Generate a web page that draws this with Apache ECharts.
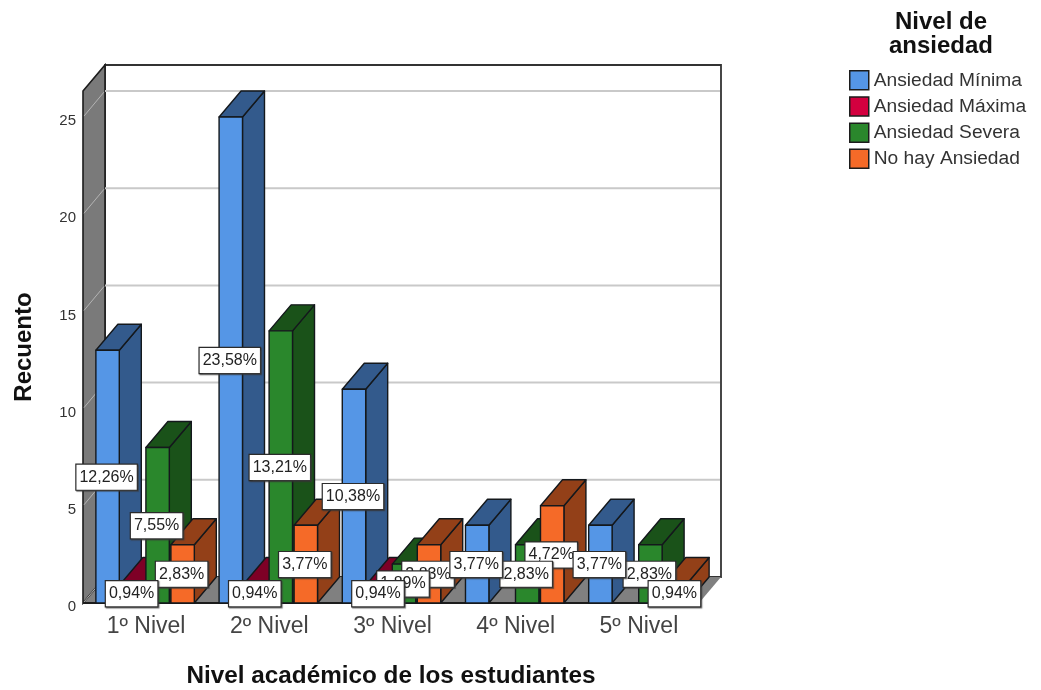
<!DOCTYPE html>
<html>
<head>
<meta charset="utf-8">
<style>html,body{margin:0;padding:0;background:#fff}#chart{width:1041px;height:690px}</style>
<script src="https://cdn.jsdelivr.net/npm/echarts@6/dist/echarts.min.js"></script>
</head>
<body>
<div id="chart"></div>
<script>
// Student counts by academic level and anxiety level
const levels = ['1º Nivel', '2º Nivel', '3º Nivel', '4º Nivel', '5º Nivel'];
const minima = [13, 25, 11, 4, 4];
const maxima = [1, 1, 1, 0, 0];
const severa = [8, 14, 2, 3, 3];
const noHay = [3, 4, 3, 5, 1];
const yTicks = [0, 5, 10, 15, 20, 25];
const groupNames = ['Ansiedad Mínima', 'Ansiedad Máxima', 'Ansiedad Severa', 'No hay Ansiedad'];
const groupValues = [minima, maxima, severa, noHay];
const frontColors = ['#5596e6', '#d3003f', '#2a872c', '#f56a28'];
const shadeColors = ['#335a8c', '#7e0026', '#1a5219', '#934018'];

const DEPTH_X = 22, DEPTH_Y = 26;
const EDGE = '#14181c';
const total = groupValues.flat().reduce((a, b) => a + b, 0);
const BAR_PITCH = 0.203;   // spacing of bars as a share of the category band
const BAR_WIDTH = 0.19;    // drawn width of a bar as a share of the category band
const GROUP_SHIFT = 0.5;

// One extruded bar: side and top faces, then the front face
function renderBar(s) {
  return function (params, api) {
    const v = api.value(1);
    if (!v) return null;
    const band = api.size([1, 0])[0];
    const w = band * BAR_WIDTH;
    const c = api.coord([api.value(0), v]);
    const base = api.coord([api.value(0), 0]);
    const x = c[0] + GROUP_SHIFT + (s - 1.5) * band * BAR_PITCH - w / 2, top = c[1], bot = base[1];
    const line = { stroke: EDGE, lineWidth: 1.4, lineJoin: 'round' };
    const face = (pts, fill) => ({
      type: 'polygon', shape: { points: pts }, style: Object.assign({ fill }, line)
    });
    return {
      type: 'group',
      children: [
        face([[x + w, top], [x + w + DEPTH_X, top - DEPTH_Y], [x + w + DEPTH_X, bot - DEPTH_Y], [x + w, bot]], shadeColors[s]),
        face([[x, top], [x + DEPTH_X, top - DEPTH_Y], [x + w + DEPTH_X, top - DEPTH_Y], [x + w, top]], shadeColors[s]),
        face([[x, top], [x + w, top], [x + w, bot], [x, bot]], frontColors[s])
      ]
    };
  };
}

// Back wall, side wall and floor, with gridlines following the value axis
function renderWalls(params, api) {
  const g = params.coordSys;
  const y = api.coord([0, api.value(0)])[1];
  const l = g.x, r = g.x + g.width, t = g.y, b = g.y + g.height;
  const backRight = r + DEPTH_X;
  const kids = [];
  if (params.dataIndex === 0) {
    kids.push({
      type: 'polygon',
      shape: { points: [[l + DEPTH_X, t - DEPTH_Y], [backRight, t - DEPTH_Y], [backRight, b - DEPTH_Y], [l + DEPTH_X, b - DEPTH_Y]] },
      style: { fill: '#fff', stroke: '#333', lineWidth: 1.8 }
    });
    kids.push({
      type: 'polygon',
      shape: { points: [[l, b], [r, b], [backRight, b - DEPTH_Y], [l + DEPTH_X, b - DEPTH_Y]] },
      style: { fill: '#808080' }
    });
    kids.push({
      type: 'line',
      shape: { x1: l, y1: b, x2: r, y2: b },
      style: { stroke: '#1c1c1c', lineWidth: 2 }
    });
    kids.push({
      type: 'polygon',
      shape: { points: [[l, t], [l + DEPTH_X, t - DEPTH_Y], [l + DEPTH_X, b - DEPTH_Y], [l, b]] },
      style: { fill: '#7a7a7a', stroke: '#1c1c1c', lineWidth: 1.6 }
    });
  }
  if (api.value(0) > 0) {
    kids.push({
      type: 'line',
      shape: { x1: l + DEPTH_X, y1: y - DEPTH_Y, x2: backRight - 1, y2: y - DEPTH_Y },
      style: { stroke: '#c9c9c9', lineWidth: 2 }
    });
  }
  kids.push({
    type: 'line',
    shape: { x1: l + 1, y1: y - 1, x2: l + DEPTH_X - 1, y2: y - DEPTH_Y + 1 },
    style: { stroke: '#b4b4b4', lineWidth: 1 }
  });
  return { type: 'group', children: kids };
}

// Percentage tag centred on a bar at half its height
function renderTag(params, api) {
  const band = api.size([1, 0])[0];
  const s = api.value(2);
  const v = api.value(1);
  const c = api.coord([api.value(0), v / 2]);
  const pct = (v / total * 100).toFixed(2).replace('.', ',') + '%';
  return {
    type: 'text',
    x: c[0] + GROUP_SHIFT + (s - 1.5) * band * BAR_PITCH - 1,
    y: c[1] + 0.5,
    style: {
      text: pct,
      font: '16px "Liberation Sans", Arial, sans-serif',
      fill: '#222',
      align: 'center',
      verticalAlign: 'middle',
      backgroundColor: '#fff',
      borderColor: '#2b2b2b',
      borderWidth: 1.2,
      padding: [5, 3, 4, 3],
      shadowColor: 'rgba(60,60,60,0.7)',
      shadowOffsetX: 1,
      shadowOffsetY: 1,
      shadowBlur: 1
    }
  };
}

// Tags stack orange, green, red, blue; the small closing orange tag sits on top
const tagData = [];
[3, 2, 1, 0].forEach(s => levels.forEach((_, i) => {
  if (groupValues[s][i] && !(s === 3 && i === 4)) tagData.push([i, groupValues[s][i], s]);
}));
tagData.push([4, noHay[4], 3]);

const barSeries = groupNames.map((name, s) => ({
  name,
  type: 'custom',
  z: 3 + s,
  silent: true,
  itemStyle: { color: frontColors[s] },
  renderItem: renderBar(s),
  encode: { x: 0, y: 1 },
  data: levels.map((_, i) => [i, groupValues[s][i]])
}));

const chart = echarts.init(document.getElementById('chart'), null, { renderer: 'canvas' });
chart.setOption({
  animation: false,
  backgroundColor: '#fff',
  textStyle: { fontFamily: '"Liberation Sans", Arial, sans-serif' },
  grid: { left: 83, right: 342, top: 91, bottom: 87, outerBoundsMode: 'none' },
  title: {
    text: 'Nivel de\nansiedad',
    left: 941,
    top: 10,
    padding: 0,
    textAlign: 'center',
    textStyle: { fontSize: 24, fontWeight: 'bold', color: '#111', lineHeight: 24 }
  },
  legend: {
    orient: 'vertical',
    left: 849,
    top: 70,
    padding: 0,
    itemWidth: 19,
    itemHeight: 19,
    itemGap: 5.7,
    selectedMode: false,
    textStyle: { fontSize: 19.2, color: '#333', verticalAlign: 'top', lineHeight: 7 },
    data: groupNames.map((name, s) => ({
      name,
      icon: 'rect',
      itemStyle: { color: frontColors[s], borderColor: '#1c1c1c', borderWidth: 1.5 }
    }))
  },
  xAxis: {
    type: 'category',
    data: levels,
    name: 'Nivel académico de los estudiantes',
    nameLocation: 'middle',
    nameGap: 61,
    nameTextStyle: { fontSize: 24.3, fontWeight: 'bold', color: '#111' },
    axisLine: { show: false },
    axisTick: { show: false },
    axisLabel: { fontSize: 23, color: '#444', margin: 12, padding: [0, 0, 0, 3] },
    z: 20
  },
  yAxis: {
    type: 'value',
    min: 0,
    max: 26.34,
    interval: 5,
    name: 'Recuento',
    nameLocation: 'middle',
    nameGap: 47,
    nameTextStyle: { fontSize: 24, fontWeight: 'bold', color: '#111' },
    axisLine: { show: false },
    axisTick: { show: false },
    splitLine: { show: false },
    axisLabel: { fontSize: 15, color: '#333', margin: 7, verticalAlign: 'top', lineHeight: 8, showMaxLabel: false }
  },
  series: [
    {
      name: 'paredes',
      type: 'custom',
      z: 1,
      silent: true,
      renderItem: renderWalls,
      encode: { y: 0 },
      data: yTicks.map(t => [t])
    },
    ...barSeries,
    {
      name: 'porcentajes',
      type: 'custom',
      z: 30,
      silent: true,
      renderItem: renderTag,
      encode: { x: 0, y: 1 },
      data: tagData
    }
  ]
});
</script>
</body>
</html>
